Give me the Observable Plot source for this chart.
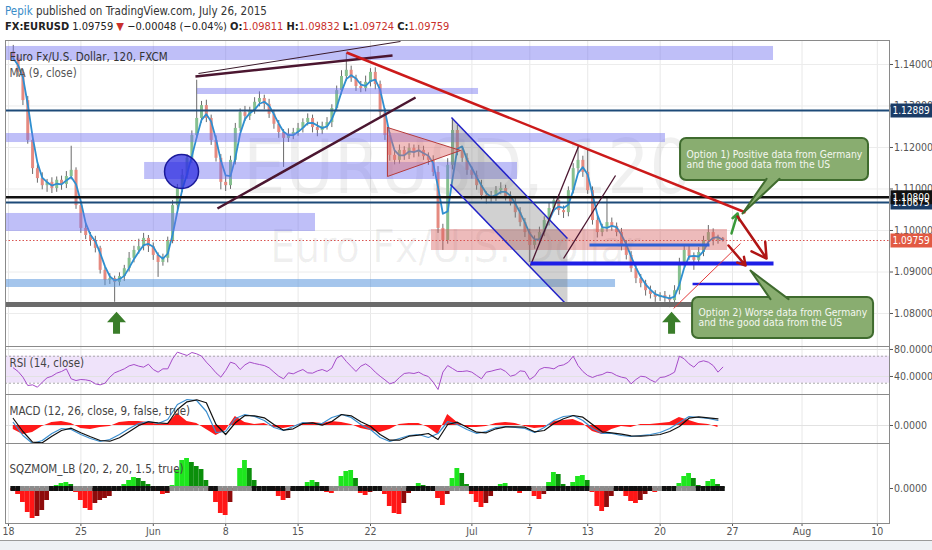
<!DOCTYPE html>
<html>
<head>
<meta charset="utf-8">
<title>FX:EURUSD 120</title>
<script src="https://cdn.jsdelivr.net/npm/d3@7"></script>
<script src="https://cdn.jsdelivr.net/npm/@observablehq/plot@0.6"></script>
<style>
  html, body { margin: 0; padding: 0; background: #fff; }
  body { font-family: "Liberation Sans Narrow", "Arial Narrow", "DejaVu Sans Condensed", sans-serif; color: #222; }
  #chart { position: relative; width: 932px; height: 550px; overflow: hidden; background: #fff; }
  #head1, #head2 { position: absolute; left: 5px; font-size: 11px; line-height: 13px; white-space: nowrap; }
  #head1 { top: 5px; color: #333; font-size: 11.5px; }
  #head2 { top: 20px; color: #222; }
  .user { color: #3a8cc8; }
  .neg { color: #c9302c; }
  .pane { position: absolute; left: 0; width: 932px; }
  .pane svg { display: block; overflow: visible; }
  #foot { position: absolute; left: 0; top: 540px; width: 932px; height: 10px; background: #eef1f5; border-top: 1px solid #9a9a9a; }
</style>
</head>
<body>
<div id="chart">
  <div id="head1"><span class="user">Pepik</span> published on TradingView.com, July 26, 2015</div>
  <div id="head2"></div>
  <div class="pane" id="pMain" style="top:40px"></div>
  <div class="pane" id="pRsi" style="top:346px"></div>
  <div class="pane" id="pMacd" style="top:394px"></div>
  <div class="pane" id="pSqz" style="top:443px"></div>
  <div id="foot"></div>
</div>
<script>
// ---- time axis (trading-day index, May 18 = 0) ----
const xTicks  = [0, 5, 10, 15, 20, 25, 32, 36, 40, 45, 50, 54.8, 60];
const xLabels = ["18", "25", "Jun", "8", "15", "22", "Jul", "7", "13", "20", "27", "Aug", "10"];
const priceTicks = [1.08, 1.09, 1.10, 1.11, 1.12, 1.13, 1.14];

// ---- EURUSD, 8-hour bars (3 per trading day) ----
const firstOpen = 1.1430;
const lastOpen = 1.09811;
const closes = [
  1.1415, 1.1381, 1.1313, 1.1217, 1.1149, 1.1125, 1.1108, 1.1116, 1.1101, 1.1121,
  1.1111, 1.1130, 1.1145, 1.1060, 1.1005, 1.0988, 1.0976, 1.0957, 1.0904, 1.0880,
  1.0884, 1.0875, 1.0889, 1.0908, 1.0933, 1.0952, 1.0961, 1.0981, 1.0961, 1.0940,
  1.0923, 1.0933, 1.0976, 1.1060, 1.1101, 1.1133, 1.1174, 1.1229, 1.1270, 1.1301,
  1.1270, 1.1217, 1.1174, 1.1116, 1.1108, 1.1169, 1.1246, 1.1284, 1.1275, 1.1289,
  1.1309, 1.1318, 1.1304, 1.1280, 1.1256, 1.1236, 1.1222, 1.1231, 1.1236, 1.1246,
  1.1260, 1.1270, 1.1248, 1.1241, 1.1251, 1.1260, 1.1294, 1.1337, 1.1371, 1.1386,
  1.1366, 1.1347, 1.1342, 1.1357, 1.1381, 1.1352, 1.1284, 1.1229, 1.1181, 1.1169,
  1.1193, 1.1181, 1.1198, 1.1188, 1.1193, 1.1178, 1.1169, 1.1140, 1.1005, 1.0976,
  1.1157, 1.1241, 1.1193, 1.1174, 1.1145, 1.1133, 1.1108, 1.1084, 1.1077, 1.1082,
  1.1096, 1.1101, 1.1082, 1.1068, 1.1043, 1.1019, 1.0995, 1.0964, 1.0976, 1.0995,
  1.1024, 1.1053, 1.1072, 1.1048, 1.1043, 1.1096, 1.1149, 1.1169, 1.1140, 1.1096,
  1.1024, 1.0995, 1.1005, 1.1019, 1.1010, 1.0995, 1.0964, 1.0940, 1.0908, 1.0884,
  1.0872, 1.0855, 1.0846, 1.0839, 1.0843, 1.0836, 1.0831, 1.0855, 1.0923, 1.0952,
  1.0937, 1.0928, 1.0947, 1.0976, 1.0995, 1.0976, 1.09807, 1.09759
];
// wick lengths above / below the candle body, in pips
const upWick = [
  16, 8, 6, 10, 12, 9, 14, 7, 11, 8,
  10, 12, 58, 6, 9, 12, 7, 10, 5, 8,
  12, 6, 9, 8, 14, 10, 18, 12, 7, 9,
  6, 10, 8, 12, 10, 14, 9, 11, 92, 10,
  13, 8, 11, 9, 14, 10, 12, 9, 15, 8,
  11, 16, 8, 12, 10, 9, 7, 14, 10, 12,
  9, 11, 8, 13, 10, 12, 9, 11, 14, 41,
  10, 8, 12, 15, 9, 11, 8, 10, 7, 12,
  13, 9, 11, 8, 12, 10, 9, 11, 14, 10,
  16, 29, 12, 9, 11, 8, 10, 13, 9, 12,
  10, 14, 8, 11, 9, 12, 10, 8, 11, 13,
  9, 12, 10, 14, 11, 9, 12, 34, 10, 53,
  9, 12, 10, 61, 11, 8, 10, 12, 9, 7,
  10, 8, 11, 9, 7, 10, 8, 12, 10, 14,
  11, 9, 12, 10, 17, 9, 8, 2.1
];
const downWick = [
  8, 10, 12, 9, 14, 11, 10, 16, 12, 9,
  14, 10, 8, 9, 12, 10, 14, 11, 9, 13,
  10, 48, 9, 12, 8, 11, 9, 10, 14, 12,
  36, 9, 11, 8, 12, 10, 9, 13, 8, 11,
  10, 12, 9, 18, 14, 9, 11, 8, 12, 10,
  9, 11, 13, 10, 12, 14, 70, 10, 12, 9,
  11, 8, 13, 15, 10, 9, 12, 8, 10, 11,
  9, 12, 10, 8, 11, 13, 10, 12, 14, 11,
  9, 12, 10, 13, 11, 9, 12, 10, 12, 24,
  9, 11, 13, 10, 12, 9, 11, 10, 13, 9,
  12, 10, 11, 9, 13, 10, 12, 41, 9, 11,
  10, 13, 9, 12, 14, 10, 8, 11, 12, 9,
  11, 13, 10, 9, 12, 10, 13, 11, 9, 12,
  10, 13, 11, 12, 10, 9, 17, 11, 10, 12,
  9, 24, 11, 10, 12, 13, 9, 3.5
];

// ---- RSI (14, close), one value per bar ----
const rsi = [
  52.8, 47.4, 39.0, 26.6, 27.6, 24.1, 31.5, 38.0, 40.4, 44.9,
  47.4, 51.3, 36.5, 34.0, 35.5, 35.0, 33.5, 29.1, 27.6, 30.1,
  39.0, 45.4, 48.3, 51.3, 55.7, 57.7, 55.3, 53.8, 58.2, 50.3,
  46.4, 51.3, 51.3, 66.1, 76.0, 73.5, 71.1, 75.5, 73.5, 70.1,
  61.2, 53.8, 45.4, 39.0, 48.8, 61.2, 58.7, 50.3, 57.2, 61.2,
  59.2, 57.7, 56.2, 52.8, 46.4, 40.4, 36.5, 45.4, 43.9, 47.4,
  50.3, 45.4, 44.9, 48.3, 50.3, 47.4, 52.3, 67.1, 71.1, 62.2,
  54.8, 47.4, 55.3, 58.7, 53.8, 46.4, 40.4, 35.0, 29.1, 31.5,
  38.5, 44.4, 45.4, 44.4, 46.4, 42.4, 39.9, 31.5, 20.7, 46.4,
  56.2, 51.8, 47.4, 47.4, 48.3, 46.4, 41.4, 36.5, 46.4, 47.8,
  49.8, 51.3, 47.4, 40.4, 42.4, 48.3, 47.4, 35.5, 40.4, 50.3,
  53.3, 52.8, 51.3, 55.7, 57.2, 61.2, 70.1, 56.2, 47.4, 41.4,
  38.5, 41.4, 42.9, 46.4, 45.4, 41.4, 39.0, 37.5, 29.1, 35.5,
  40.4, 39.4, 35.0, 31.5, 38.5, 39.4, 42.4, 46.4, 70.1, 66.1,
  58.7, 53.8, 61.2, 63.2, 61.2, 56.2, 46.4, 53.8
];

// ---- MACD (12, 26, close, 9), every second bar, in pips ----
const macdLine = [
  3, -10, -18, -15, -8, -3, -4, -9, -13, -16,
  -14, -9, -3, 2, 4, 2, 6, 21, 26, 25,
  14, -7, -6, 7, 11, 9, 5, -2, -5, -1,
  3, 2, 2, 8, 11, 8, 1, -4, -12, -16,
  -13, -10, -9, -12, -8, 4, 1, -4, -8, -6,
  -2, -1, -2, -3, -7, -2, 5, 9, 10, 5,
  -3, -8, -8, -10, -11, -10, -9, -7, -3, 3,
  9, 8, 7, 5
];
const signalLine = [
  7.0, -6.0, -16.7, -17.3, -10.7, -5, -2.7, -7.3, -11.3, -15,
  -15.7, -12.3, -6.3, 0, 3.7, 2.7, 2, 16, 23.7, 25.7,
  22.7, 1, -9, 2.7, 10, 9.7, 7.7, 1, -4.7, -3.3,
  2, 2.7, 0.3, 4, 11, 9.7, 3.7, -0.7, -9, -14.7,
  -14.7, -10.7, -9.7, -8, -14, 1, 3.3, -1.7, -6.7, -7.3,
  -3.3, -1.3, -1.3, -1.7, -6.3, -5, 2, 6.7, 10, 8.3,
  1, -6.3, -7.3, -8.7, -10.3, -10.7, -10, -9, -6, -1,
  7.3, 8.7, 7.7, 6.7
];
const macdHist = [
  -4, -9, -7, -1, 3, 4, 2, -3, -4, -2,
  -1, 3, 4, 4, 3, 1, 2, 12, 4, 2,
  -4, -10, -5, 9, 3, 1, 2, -2, -3, -1,
  2, 3, 2, 4, 3, 1, -3, -5, -7, -4,
  1, 2, 2, -2, -9, 11, 3, -2, -2, -1,
  2, 3, 2, -1, -3, -2, 4, 5, 6, 2,
  -6, -9, -4, -1, -2, 1, 1, 2, 3, 8,
  5, 2, 1, -2
];

// ---- Squeeze momentum (20, 2, 20, 1.5), one value per bar, in pips ----
const sqzMom = [
  -2, -6, -14, -24, -30, -28, -22, -12, -3, 3,
  5, 6, 4, -4, -12, -20, -22, -15, -12, -10,
  -8, -3, 1, 4, 8, 11, 10, 7, 4, 1,
  -3, -6, -5, 3, 18, 28, 30, 26, 22, 19,
  8, -3, -14, -25, -27, -14, -2, 20, 28, 20,
  8, 1, 0.5, 0.5, -3, -8, -12, -10, -2, 0.5,
  2, 6, 8, 6, 1, -4, -5, 2, 12, 17,
  18, 10, -5, -7, -4, 0.5, 0.5, -6, -18, -25,
  -26, -15, -5, 2, 5, 3, 0.5, -2, -10, -17,
  -6, 10, 20, 15, 4, -6, -14, -19, -15, -8,
  -2, 4, 5, 2, -2, -5, -3, -1, -8, -11,
  -6, 6, 16, 14, 4, -1, 6, 12, 13, 8,
  -4, -18, -23, -19, -8, -2, -2, -8, -13, -15,
  -12, -6, -3, -4, -2, -1, 0.5, 1, 5, 12,
  15, 10, 3, 2, 7, 9, 4, 1
];
// squeeze state runs along the zero line: [1 = squeeze on, bar count]
const squeezeRuns = [[1,2],[0,6],[1,5],[0,4],[1,16],[0,8],[1,2],[0,7],[1,7],[0,1],[1,8],[0,6],[1,5],[0,5],[1,6],[0,7],[1,13],[0,3],[1,9],[0,5],[1,8],[0,2],[1,3],[0,4],[1,6]];

// ---- drawings on the price pane (day index, price) ----
const zones = [
  {x1: -0.3,  x2: 52.83, lo: 1.14096, hi: 1.14434, kind: "zone"},
  {x1: 13.05, x2: 32.46, lo: 1.13277, hi: 1.13422, kind: "zone"},
  {x1: -0.3,  x2: 45.37, lo: 1.12120, hi: 1.12337, kind: "zone"},
  {x1: 9.40,  x2: 35.15, lo: 1.11229, hi: 1.11639, kind: "zone"},
  {x1: -0.3,  x2: 21.20, lo: 1.09976, hi: 1.10410, kind: "zone"},
  {x1: -0.3,  x2: 41.92, lo: 1.08627, hi: 1.08819, kind: "support"},
  {x1: 29.21, x2: 49.65, lo: 1.09518, hi: 1.10024, kind: "range"}
];
const levels = [
  {price: 1.12889, kind: "level"},
  {price: 1.10675, kind: "level"},
  {price: 1.10800, kind: "pivot"}
];
const segments = [
  {x1: 12.91, p1: 1.13711, x2: 26.52, p2: 1.14217, kind: "trend"},
  {x1: 13.12, p1: 1.13783, x2: 27.07, p2: 1.14554, kind: "thin"},
  {x1: 14.43, p1: 1.10530, x2: 28.11, p2: 1.13205, kind: "trend"},
  {x1: 23.34, p1: 1.14289, x2: 50.90, p2: 1.10434, kind: "down"},
  {x1: 30.59, p1: 1.12723, x2: 38.60, p2: 1.09807, kind: "channel"},
  {x1: 30.52, p1: 1.11108, x2: 38.60, p2: 1.08193, kind: "channel"},
  {x1: 36.05, p1: 1.09157, x2: 39.36, p2: 1.12024, kind: "rise"},
  {x1: 38.33, p1: 1.09325, x2: 41.92, p2: 1.11325, kind: "rise"},
  {x1: 36.05, p1: 1.09205, x2: 52.83, p2: 1.09205, kind: "shelf"},
  {x1: 40.12, p1: 1.09651, x2: 48.41, p2: 1.09651, kind: "mid"},
  {x1: 47.24, p1: 1.08711, x2: 52.28, p2: 1.08711, kind: "lower"},
  {x1: -0.3,  p1: 1.08217, x2: 48.27, p2: 1.08217, kind: "floor"},
  {x1: 45.93, p1: 1.08120, x2: 50.55, p2: 1.09687, kind: "fine"}
];
const channelArea = [
  {day: 30.59, price: 1.12723}, {day: 38.60, price: 1.09807},
  {day: 38.60, price: 1.08193}, {day: 30.52, price: 1.11108}
];
const pennant = [
  {day: 26.17, price: 1.12482}, {day: 31.22, price: 1.11928},
  {day: 26.17, price: 1.11301}, {day: 26.17, price: 1.12482}
];
const bottomPattern = [{day: 11.95, price: 1.11422}];
const arrows = [
  {x1: 49.93, p1: 1.09928, x2: 50.35, p2: 1.10410, kind: "bull"},
  {x1: 50.35, p1: 1.10337, x2: 52.35, p2: 1.09325, kind: "bear"},
  {x1: 49.72, p1: 1.09639, x2: 50.90, p2: 1.09157, kind: "bear"}
];
const lowMarkers = [{day: 7.46, price: 1.0778}, {day: 45.79, price: 1.0778}];
const callouts = [
  {id: 1, text: "Option 1) Positive data from Germany\nand the good data from the US",
   x1: 46.41, x2: 59.39, lo: 1.11205, hi: 1.12217, side: "bottom",
   baseFrom: 52.35, baseTo: 53.25, tipDay: 50.69, tipPrice: 1.10410},
  {id: 2, text: "Option 2) Worse data from Germany\nand the good data from the US",
   x1: 47.24, x2: 59.74, lo: 1.07398, hi: 1.08386, side: "top",
   baseFrom: 52.62, baseTo: 53.87, tipDay: 51.24, tipPrice: 1.09036}
];

// ---- derived tables ----
const pip = 0.0001;
const barDay = i => 0.33 + i / 3;   // bars are 8 hours apart
const bars = closes.map((close, i) => {
  const open = i === 0 ? firstOpen : i === closes.length - 1 ? lastOpen : closes[i - 1];
  return {day: barDay(i), open, close,
          high: Math.max(open, close) + upWick[i] * pip,
          low: Math.min(open, close) - downWick[i] * pip};
});
const last = bars[bars.length - 1];
const prevClose = closes[closes.length - 2];
const rsiData = rsi.map((v, i) => ({day: barDay(i), v}));
const macdData = macdLine.map((m, k) => ({day: barDay(2 * k), macd: m, signal: signalLine[k], hist: macdHist[k]}));
const sqzData = sqzMom.map((v, i) => ({
  day: barDay(i), v,
  tone: v >= 0 ? (i > 0 && v < sqzMom[i - 1] ? "#0b8f0b" : "#1ee61e")
               : (i > 0 && v > sqzMom[i - 1] ? "#8e0b0b" : "#ff1616")
}));
const squeeze = squeezeRuns.flatMap(([s, n]) => Array(n).fill(s)).map((s, i) => ({day: barDay(i), on: s}));
const tails = callouts.flatMap(c => {
  const edge = c.side === "bottom" ? c.lo + 0.0004 : c.hi - 0.0004;
  return [{id: c.id, day: c.baseFrom, price: edge}, {id: c.id, day: c.tipDay, price: c.tipPrice}, {id: c.id, day: c.baseTo, price: edge}];
});

// ---- header quote line ----
const f5 = d3.format(".5f");
const chg = last.close - prevClose;
document.getElementById("head2").innerHTML =
  `<b>FX:EURUSD</b> ${f5(last.close)} <span class="neg">▼</span> ${f5(chg)} (${d3.format(".2%")(chg / prevClose)}) ` +
  `<b>O:</b><span class="neg">${f5(last.open)}</span> <b>H:</b><span class="neg">${f5(last.high)}</span> ` +
  `<b>L:</b><span class="neg">${f5(last.low)}</span> <b>C:</b><span class="neg">${f5(last.close)}</span>`;

// ---- shared layout ----
const font = '"Liberation Sans Narrow","Arial Narrow","DejaVu Sans Condensed",sans-serif';
const baseStyle = {fontFamily: font, fontSize: "10.5px", color: "#4d4d4d", background: "transparent", overflow: "visible"};
const W = 932, ML = 5, MR = 43;
const xDomain = [-0.207, 60.84];
const frameStroke = "#8a8a8a";
const axisFont = 10.5;
const grid = () => Plot.gridX(xTicks, {stroke: "#e8e8e8", strokeOpacity: 1});
const paneTitle = (label, dy, fill = "#444") =>
  Plot.text([label], {text: d => d, frameAnchor: "top-left", dx: 4, dy, lineAnchor: "middle", fill, fontSize: 11.5});
const rightAxis = (ticks, format) =>
  Plot.axisY(ticks, {anchor: "right", tickFormat: format, tickSize: 3, tickPadding: 1.5, label: null, color: "#555", fontSize: axisFont});
function pane(height, yDomain, marks, marginBottom = 0) {
  return Plot.plot({
    width: W, height, marginLeft: ML, marginRight: MR, marginTop: 0, marginBottom,
    x: {domain: xDomain, axis: null},
    y: {domain: yDomain, axis: null},
    style: baseStyle,
    marks
  });
}

// price-scale tags (filled boxes in the right margin)
const tagBox = {draw(ctx) { ctx.rect(0, -7, 43, 14); }};
const tagColor = {level: "#1b3c66", pivot: "#111111", last: "#e25a43"};
const tags = [...levels.filter(d => d.kind === "level"), ...levels.filter(d => d.kind === "pivot"), {price: last.close, kind: "last"}];

// big up-arrow marker
const upArrow = {draw(ctx) {
  ctx.moveTo(0, -11); ctx.lineTo(9.5, -0.5); ctx.lineTo(3.5, -0.5); ctx.lineTo(3.5, 11);
  ctx.lineTo(-3.5, 11); ctx.lineTo(-3.5, -0.5); ctx.lineTo(-9.5, -0.5); ctx.closePath();
}};

const zoneStyle = {zone: {fill: "#7070f0", op: 0.45}, support: {fill: "#5a96dd", op: 0.55}, range: {fill: "#d45c5c", op: 0.42}};
const segStyle = {
  trend: {stroke: "#4b1630", w: 2.5}, thin: {stroke: "#3a1a2a", w: 1}, down: {stroke: "#cc1a1a", w: 2.5},
  channel: {stroke: "#2222c8", w: 1.5}, rise: {stroke: "#4b1630", w: 1.3}, shelf: {stroke: "#1e1ee6", w: 4},
  mid: {stroke: "#2f5fd6", w: 3}, lower: {stroke: "#1e1ee6", w: 2.5}, floor: {stroke: "#6b6b6b", w: 5},
  fine: {stroke: "#e23a3a", w: 1}
};
const levelStyle = {level: {stroke: "#1d4a78", w: 2}, pivot: {stroke: "#111", w: 2.5}};
const arrowStyle = {bull: {stroke: "#3a9a3a", w: 2.5}, bear: {stroke: "#b01515", w: 2.5}};

// ---- price pane ----
const mainMarks = [
  grid(),
  Plot.gridY(priceTicks, {stroke: "#ececec", strokeOpacity: 1}),
  Plot.text(["EURUSD, 120"], {text: d => d, frameAnchor: "middle", dx: 20, dy: -24, fontSize: 74, fill: "#000", fillOpacity: 0.06}),
  Plot.text(["Euro Fx/U.S. Dollar"], {text: d => d, frameAnchor: "middle", dx: 8, dy: 54, fontSize: 44, fill: "#000", fillOpacity: 0.06}),
  Plot.ruleX(bars, {x: "day", y1: "low", y2: "high", stroke: "#6a6a6a", strokeWidth: 1}),
  Plot.ruleX(bars, {x: "day", y1: "open", y2: "close", stroke: d => d.close >= d.open ? "#86c08f" : "#e58a80", strokeWidth: 3}),
  Plot.lineY(bars, Plot.windowY({k: 3, anchor: "end"}, {x: "day", y: "close", stroke: "#2f8fd0", strokeWidth: 1.8})),
  ...Object.entries(zoneStyle).map(([kind, s]) =>
    Plot.rect(zones.filter(d => d.kind === kind), {x1: "x1", x2: "x2", y1: "lo", y2: "hi", fill: s.fill, fillOpacity: s.op, clip: true})),
  Plot.line(channelArea, {x: "day", y: "price", fill: "#7a7a7a", fillOpacity: 0.35, stroke: "none"}),
  ...Object.entries(levelStyle).map(([kind, s]) =>
    Plot.ruleY(levels.filter(d => d.kind === kind), {y: "price", stroke: s.stroke, strokeWidth: s.w})),
  Plot.ruleY([last], {y: "close", stroke: "#d9534f", strokeDasharray: "1.5,2", strokeWidth: 1}),
  ...Object.entries(segStyle).map(([kind, s]) =>
    Plot.link(segments.filter(d => d.kind === kind), {x1: "x1", y1: "p1", x2: "x2", y2: "p2", stroke: s.stroke, strokeWidth: s.w, clip: true})),
  Plot.line(pennant, {x: "day", y: "price", fill: "#e07070", fillOpacity: 0.45, stroke: "#b53a3a", strokeWidth: 1}),
  Plot.dot(bottomPattern, {x: "day", y: "price", r: 17, fill: "#2a2ae0", fillOpacity: 0.72, stroke: "#1a1a9a", strokeWidth: 1.5}),
  ...Object.entries(arrowStyle).map(([kind, s]) =>
    Plot.arrow(arrows.filter(d => d.kind === kind), {x1: "x1", y1: "p1", x2: "x2", y2: "p2", stroke: s.stroke, strokeWidth: s.w, headLength: 10})),
  Plot.dot(lowMarkers, {x: "day", y: "price", symbol: upArrow, fill: "#3a7d2a", stroke: "none"}),
  Plot.rect(callouts, {x1: "x1", x2: "x2", y1: "lo", y2: "hi", rx: 6, fill: "#89ad70", stroke: "#3f6b2e", strokeWidth: 2}),
  Plot.line(tails, {x: "day", y: "price", z: "id", fill: "#89ad70", stroke: "#3f6b2e", strokeWidth: 2}),
  Plot.text(callouts, {x: "x1", y: d => (d.lo + d.hi) / 2, text: "text", dx: 6, textAnchor: "start", lineAnchor: "middle", lineHeight: 1.0, fontSize: 10.3, fill: "#f4f7ef"}),
  paneTitle("Euro Fx/U.S. Dollar, 120, FXCM", 17, "#333"),
  paneTitle("MA (9, close)", 33, "#555"),
  rightAxis(priceTicks, f5),
  Plot.dot(tags, {y: "price", frameAnchor: "right", dx: 1, symbol: tagBox, fill: d => tagColor[d.kind], stroke: "none"}),
  Plot.text(tags, {y: "price", frameAnchor: "right", dx: 3, text: d => f5(d.price), textAnchor: "start", fill: "#fff", fontSize: 10}),
  Plot.frame({stroke: frameStroke})
];
document.getElementById("pMain").append(pane(306, [1.07205, 1.14578], mainMarks));

// ---- RSI pane ----
document.getElementById("pRsi").append(pane(48, [13.3, 84.4], [
  grid(),
  Plot.rect([{lo: 30, hi: 70}], {x1: () => xDomain[0], x2: () => xDomain[1], y1: "lo", y2: "hi", fill: "#efe3fa"}),
  Plot.gridY([40, 80], {stroke: "#e2e2e2", strokeOpacity: 1}),
  Plot.ruleY([30, 70], {stroke: "#a9a9a9", strokeDasharray: "2,2"}),
  Plot.lineY(rsiData, {x: "day", y: "v", stroke: "#a64cc9", strokeWidth: 1, clip: true}),
  paneTitle("RSI (14, close)", 17),
  rightAxis([40, 80], d3.format(".4f")),
  Plot.frame({stroke: frameStroke})
]));

// ---- MACD pane ----
document.getElementById("pMacd").append(pane(49, [-18, 31], [
  grid(),
  Plot.ruleY([0], {stroke: "#e2e2e2"}),
  Plot.areaY(macdData, {x: "day", y1: () => 0, y2: "hist", fill: "#ff1a1a", clip: true}),
  Plot.lineY(macdData, {x: "day", y: "macd", stroke: "#3a8ecf", strokeWidth: 1.2, clip: true}),
  Plot.lineY(macdData, {x: "day", y: "signal", stroke: "#111", strokeWidth: 1.2, clip: true}),
  paneTitle("MACD (12, 26, close, 9, false, true)", 17),
  rightAxis([0], d3.format(".4f")),
  Plot.frame({stroke: frameStroke})
]));

// ---- Squeeze momentum pane with the time axis ----
const labelOf = new Map(xTicks.map((t, i) => [t, xLabels[i]]));
document.getElementById("pSqz").append(pane(97, [-35, 45], [
  grid(),
  Plot.rect(sqzData, {x1: d => d.day - 1 / 6, x2: d => d.day + 1 / 6, y1: () => 0, y2: "v", fill: "tone"}),
  Plot.ruleY(squeeze, {y: () => 0, x1: d => d.day - 1 / 6, x2: d => d.day + 1 / 6, stroke: d => d.on ? "#111" : "#8c8c8c", strokeWidth: 5}),
  paneTitle("SQZMOM_LB (20, 2, 20, 1.5, true)", 26),
  rightAxis([0], d3.format(".4f")),
  Plot.axisX(xTicks, {anchor: "bottom", tickFormat: d => labelOf.get(d), tickSize: 3, tickPadding: 1, label: null, color: "#555", fontSize: axisFont}),
  Plot.frame({stroke: frameStroke})
], 17));
</script>
</body>
</html>
